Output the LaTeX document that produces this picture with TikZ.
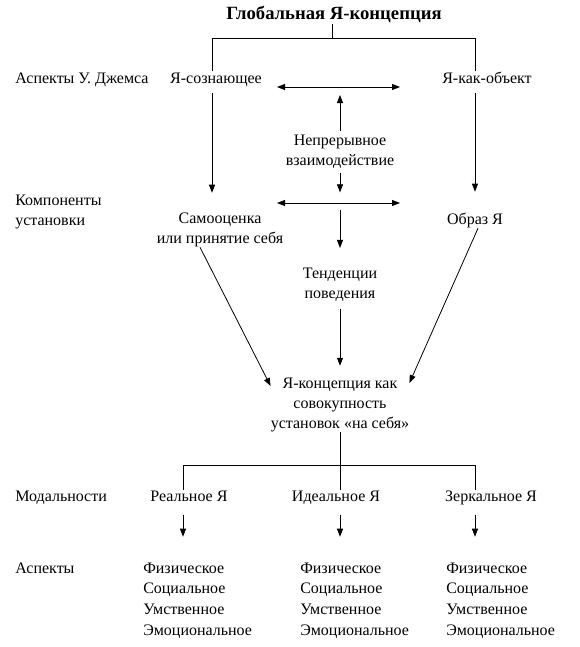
\documentclass[tikz,border=0pt]{standalone}
\usepackage{fontspec}
\setmainfont{Liberation Serif}
\usetikzlibrary{arrows.meta}
\tikzset{
  lbl/.style={anchor=west, inner sep=0pt, text height=9pt, text depth=3pt, font=\fontsize{12}{15}\selectfont},
  lbls/.style={anchor=west, inner sep=0pt, align=left, font=\fontsize{12}{15}\selectfont},
  txt/.style={inner sep=0pt, text height=9pt, text depth=3pt, font=\fontsize{12}{15}\selectfont},
  txts/.style={inner sep=0pt, align=center, font=\fontsize{12}{15}\selectfont},
  ttl/.style={inner sep=0pt, text height=10pt, text depth=3pt, font=\fontsize{14}{16}\selectfont\bfseries},
  arr/.style={-{Triangle[length=6pt,width=4.5pt]}, line width=0.6pt},
  dbl/.style={{Triangle[length=6pt,width=4.5pt]}-{Triangle[length=6pt,width=4.5pt]}, line width=0.6pt},
  link/.style={line width=0.6pt}
}
\begin{document}
\begin{tikzpicture}[x=0.75pt,y=-0.75pt]
\useasboundingbox (0,0) rectangle (580,647);

\node[ttl] (glob) at (334,15) {Глобальная Я-концепция};
\node[lbl] (james) at (15,79) {Аспекты У. Джемса};
\node[txt] (soz) at (216,79) {Я-сознающее};
\node[txt] (obj) at (487,79) {Я-как-объект};
\node[txts] (vz) at (340,152) {Непрерывное\\взаимодействие};
\node[lbls] (komp) at (15,212) {Компоненты\\установки};
\node[txts] (sam) at (220,230) {Самооценка\\или принятие себя};
\node[txt] (obraz) at (475,220) {Образ Я};
\node[txts] (ten) at (340,285) {Тенденции\\поведения};
\node[txts] (kon) at (340,405) {Я-концепция как\\совокупность\\установок «на себя»};
\node[lbl] (mod) at (15,497) {Модальности};
\node[lbl] (asp) at (15,569) {Аспекты};

\coordinate (tl) at (212,38);
\coordinate (tr) at (475,38);
\coordinate (m1) at (340,87);
\coordinate (m2) at (340,203);
\coordinate (bt) at (340,465);

\draw[link] (glob.south -| 332,0) -- (332,38);
\draw[link] (soz.north -| tl) -- (tl) -- (tr) -- (obj.north -| tr);

\draw[dbl] (277,87) -- (400,87);
\draw[dbl] (277,203) -- (400,203);

\draw[arr, shorten <=4.5pt, shorten >=15pt] (soz.south -| tl) -- (sam.north -| tl);
\draw[arr, shorten <=4.5pt, shorten >=15pt] (obj.south -| tr) -- (obraz.north -| tr);
\draw[arr, shorten <=3pt, shorten >=6pt] (vz.north) -- (m1);
\draw[arr, shorten <=3pt, shorten >=8pt] (vz.south) -- (m2);
\draw[arr, shorten <=5pt, shorten >=15pt] (m2) -- (ten.north);
\draw[arr, shorten <=5pt, shorten >=9pt] (ten.south) -- (kon.north);

\draw[arr] (sam.south -| 200,0) -- (kon.north west |- 0,386);
\draw[arr] (obraz.south -| 478,0) -- (kon.north east |- 0,383);

\draw[link] (kon.south) -- (bt);
\draw[link] (183,490) -- (183,465) -- (475,465) -- (475,490);
\draw[link] (bt) -- (340,490);

\foreach \n/\lx/\ax/\cx/\t in {r/143/183/189/Реальное Я, i/300/340/336/Идеальное Я, z/446/475/491/Зеркальное Я}{
  \node[txt] (\n) at (\cx,497) {\t};
  \foreach \w [count=\k] in {Физическое,Социальное,Умственное,Эмоциональное}
    \node[lbl] (\n\k) at (\lx,{548.3+20.7*\k}) {\w};
  \draw[arr, shorten <=7pt, shorten >=18pt] (\n.south -| \ax,0) -- (\n1.north -| \ax,0);
}
\end{tikzpicture}
\end{document}
